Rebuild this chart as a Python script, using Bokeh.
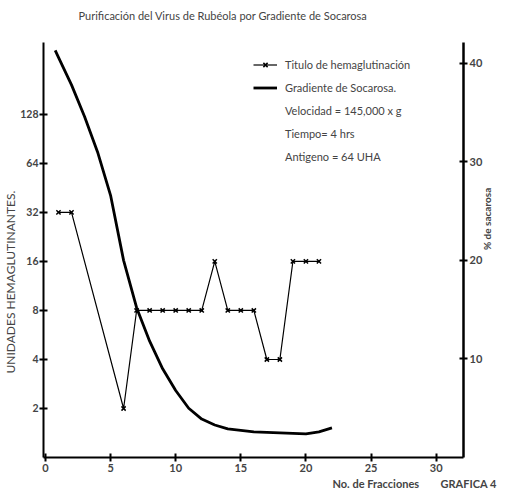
import math
from bokeh.plotting import figure
from bokeh.models import (Range1d, LinearAxis, LinearScale, FixedTicker, Legend,
                          LegendItem, BasicTickFormatter, Title)
from bokeh.embed import file_html
from bokeh.resources import INLINE

# ---- data ----
frac_hem = [1, 2, 6, 7, 8, 9, 10, 11, 12, 13, 14, 15, 16, 17, 18, 19, 20, 21]
hem_units = [32, 32, 2, 8, 8, 8, 8, 8, 8, 16, 8, 8, 8, 4, 4, 16, 16, 16]

frac_suc = [0.75, 1, 2, 3, 4, 5, 6, 7, 8, 9, 10, 11, 12, 13, 14, 16, 18, 20, 21, 22]
pct_suc = [41.3, 40.6, 37.8, 34.6, 31.0, 26.6, 20.0, 15.2, 11.8, 9.0, 6.8, 5.0, 3.9,
           3.3, 2.9, 2.6, 2.5, 2.4, 2.6, 3.0]

x_ticks = [0, 5, 10, 15, 20, 25, 30]
left_ticks = [2, 4, 8, 16, 32, 64, 128]
right_ticks = [10, 20, 30, 40]

title_text = "Purificación del Virus de Rubéola por Gradiente de Socarosa"
legend_labels = ["Titulo de hemaglutinación", "Gradiente de Socarosa.",
                 "Velocidad = 145,000 x g", "Tiempo= 4 hrs", "Antigeno = 64 UHA"]
y_title = "UNIDADES HEMAGLUTINANTES."
y2_title = "% de sacarosa"
x_title = "No. de Fracciones"
fig_label = "GRAFICA 4"

FONT = "Lato"

p = figure(width=503, height=491, x_range=Range1d(-0.15, 32.1),
           y_range=Range1d(1, 354), y_axis_type="log",
           output_backend="svg", toolbar_location=None,
           min_border_left=43, min_border_right=40, min_border_top=42, min_border_bottom=34)
p.outline_line_color = None
p.xgrid.visible = False
p.ygrid.visible = False
p.background_fill_color = "white"

# second (blank) line lifts the title towards the top edge
p.title.text = title_text + "\n\u00a0"
p.title.align = "left"
p.title.vertical_align = "top"
p.title.offset = 35
p.title.standoff = 12
p.title.text_font = FONT
p.title.text_font_size = "11px"
p.title.text_font_style = "normal"

p.extra_y_ranges = {"pct": Range1d(0, 42.1)}
p.extra_y_scales = {"pct": LinearScale()}

def style_axis(ax):
    ax.axis_line_width = 2
    ax.axis_line_color = "black"
    ax.major_tick_line_width = 2
    ax.major_tick_in = 4
    ax.major_tick_out = 4
    ax.minor_tick_line_color = None
    ax.major_label_text_font = FONT
    ax.major_label_text_font_style = "bold"
    ax.major_label_text_font_size = "11px"
    ax.major_label_standoff = 2

xa = p.xaxis[0]
xa.ticker = FixedTicker(ticks=x_ticks)
style_axis(xa)

ya = p.yaxis[0]
ya.ticker = FixedTicker(ticks=left_ticks)
ya.formatter = BasicTickFormatter()
style_axis(ya)
ya.major_label_text_font_size = "10.5px"
ya.major_label_standoff = 1

ra = LinearAxis(y_range_name="pct", ticker=FixedTicker(ticks=right_ticks))
style_axis(ra)
ra.axis_line_width = 2.5
ra.axis_label = y2_title
ra.axis_label_text_font = FONT
ra.axis_label_text_font_size = "10px"
ra.axis_label_text_font_style = "bold"
ra.axis_label_standoff = 2
try:
    ra.axis_label_orientation = math.pi / 2
except Exception:
    pass
p.add_layout(ra, "right")

# left axis title as a side-panel title (reads bottom to top)
p.add_layout(Title(text=y_title, align="left", offset=84, standoff=0,
                   text_font=FONT, text_font_size="12px", text_font_style="normal"), "left")
# x axis title and figure number on one line
p.add_layout(Title(text=x_title + "\u00a0" * 8 + fig_label, align="left", offset=289, standoff=0,
                   text_font=FONT, text_font_size="11px", text_font_style="bold"), "below")

r_hem = p.line(frac_hem, hem_units, line_color="black", line_width=1.2)
r_hem_pts = p.scatter(frac_hem, hem_units, marker="x", size=6, line_color="black", line_width=1.5)
r_suc = p.line(frac_suc, pct_suc, line_color="black", line_width=2.8, y_range_name="pct")

blank = [p.line(x=[], y=[], line_alpha=0) for _ in range(3)]

legend = Legend(items=[
    LegendItem(label=legend_labels[0], renderers=[r_hem, r_hem_pts]),
    LegendItem(label=legend_labels[1], renderers=[r_suc]),
    LegendItem(label=legend_labels[2], renderers=[blank[0]]),
    LegendItem(label=legend_labels[3], renderers=[blank[1]]),
    LegendItem(label=legend_labels[4], renderers=[blank[2]]),
], location=(210, 293))
legend.border_line_color = None
legend.background_fill_alpha = 0
legend.padding = 0
legend.margin = 0
legend.spacing = 8
legend.glyph_height = 15
legend.label_height = 15
legend.glyph_width = 24
legend.label_standoff = 8
legend.label_text_font = FONT
legend.label_text_font_size = "11px"
p.add_layout(legend, "center")

open("out.html", "w").write(file_html(p, INLINE))
